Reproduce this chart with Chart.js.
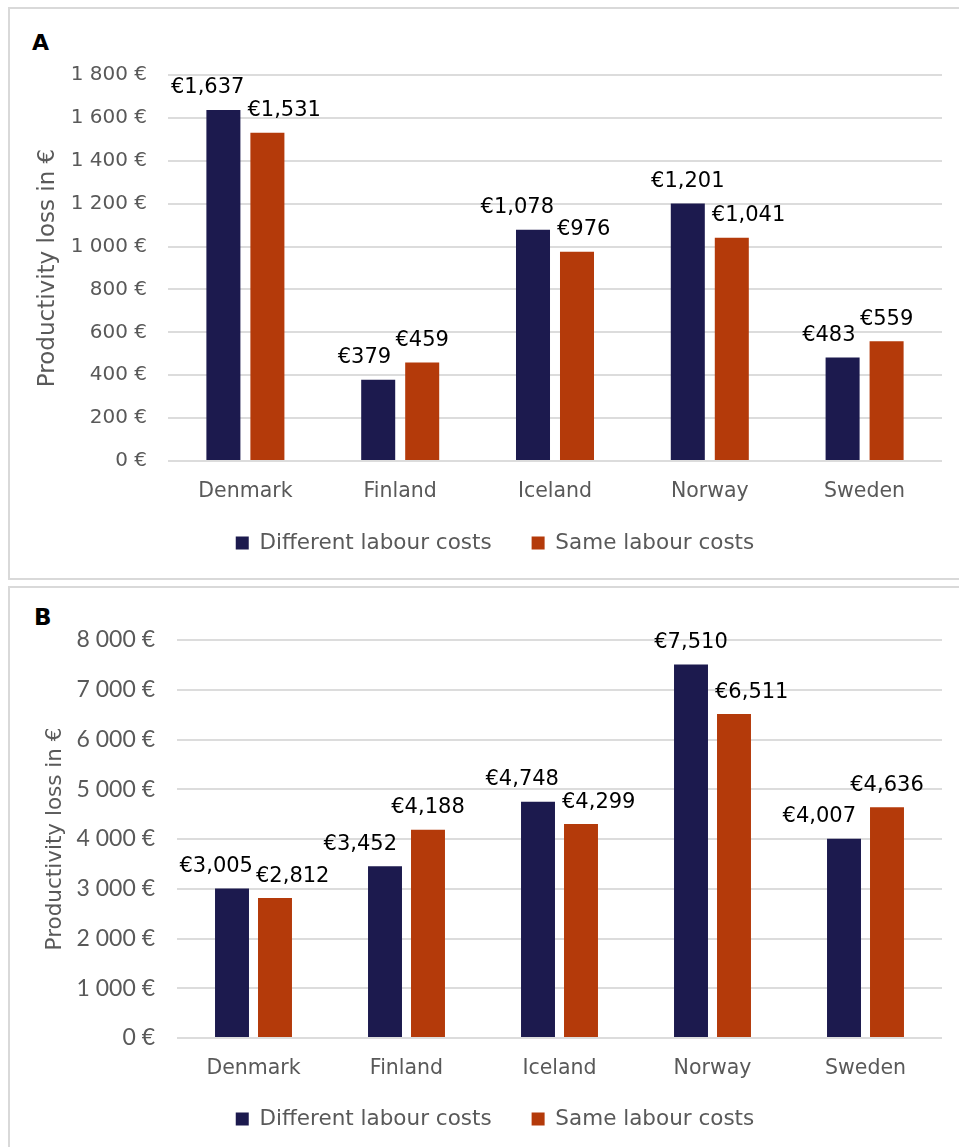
<!DOCTYPE html>
<html>
<head>
<meta charset="utf-8">
<script src="https://cdn.jsdelivr.net/npm/chart.js@4.4.1/dist/chart.umd.min.js"></script>
<style>
  html, body { margin: 0; padding: 0; background: #ffffff; }
  body { width: 959px; height: 1147px; position: relative; overflow: hidden; }
  .panel { position: absolute; box-sizing: border-box; border: 2px solid #d9d9d9; background: #fff; }
  .tag { position: absolute; font-family: "DejaVu Sans", sans-serif; font-weight: bold; color: #000; line-height: 22px; }
  canvas { position: absolute; }
</style>
</head>
<body>
<div class="panel" style="left:8px; top:7px; width:960px; height:573px;"></div>
<div class="panel" style="left:8px; top:586px; width:960px; height:600px;"></div>
<div class="tag" style="left:32px; top:32px; font-size:22px;">A</div>
<div class="tag" style="left:34px; top:606px; font-size:23px;">B</div>
<canvas id="chartA" width="948" height="575" style="left:11px; top:10px;"></canvas>
<canvas id="chartB" width="948" height="575" style="left:11px; top:589px;"></canvas>
<script>
// ---- data ----
const categories = ['Denmark', 'Finland', 'Iceland', 'Norway', 'Sweden'];
const seriesNames = ['Different labour costs', 'Same labour costs'];
const panelADifferent = [1637, 379, 1078, 1201, 483];
const panelASame = [1531, 459, 976, 1041, 559];
const panelBDifferent = [3005, 3452, 4748, 7510, 4007];
const panelBSame = [2812, 4188, 4299, 6511, 4636];
const panelATicks = [0, 200, 400, 600, 800, 1000, 1200, 1400, 1600, 1800];
const panelBTicks = [0, 1000, 2000, 3000, 4000, 5000, 6000, 7000, 8000];
const yTitle = 'Productivity loss in €';

const DARK = '#1c1a4e';
const ORANGE = '#b43a0a';
const GREY = '#595959';

function tickFmt(v) {
  return String(v).replace(/\B(?=(\d{3})+(?!\d))/g, ' ') + ' €';
}
function labelFmt(v) {
  return '€' + v.toLocaleString('en-US');
}

const barLabels = {
  id: 'barLabels',
  afterDatasetsDraw(chart) {
    const ctx = chart.ctx;
    const m0 = chart.getDatasetMeta(0), m1 = chart.getDatasetMeta(1);
    ctx.save();
    ctx.font = '21px "DejaVu Sans"';
    ctx.fillStyle = '#000000';
    ctx.textAlign = 'center';
    ctx.textBaseline = 'middle';
    const H = 24, raise = 22;
    for (let i = 0; i < m0.data.length; i++) {
      const bars = [m0.data[i], m1.data[i]];
      const vals = [chart.data.datasets[0].data[i], chart.data.datasets[1].data[i]];
      const labs = bars.map((b, k) => {
        const t = labelFmt(vals[k]);
        return { t, w: ctx.measureText(t).width, x: b.x, y: b.y - raise };
      });
      const tall = vals[0] >= vals[1] ? 0 : 1;
      const short = 1 - tall;
      const dir = short === 1 ? 1 : -1;
      const gap = short === 0 ? 14 : 7;
      const tb = bars[tall];
      const hw = tb.width / 2;
      const S = labs[short], T = labs[tall];
      if (S.y + H / 2 > tb.y - 4) {
        if (dir === 1) {
          const minLeft = tb.x + hw + gap;
          if (S.x - S.w / 2 < minLeft) S.x = minLeft + S.w / 2;
        } else {
          const maxRight = tb.x - hw - gap;
          if (S.x + S.w / 2 > maxRight) S.x = maxRight - S.w / 2;
        }
      }
      if (Math.abs(T.y - S.y) < H) {
        if (dir === 1) {
          const maxRight = S.x - S.w / 2 - 3;
          if (T.x + T.w / 2 > maxRight) T.x = maxRight - T.w / 2;
        } else {
          const minLeft = S.x + S.w / 2 + 3;
          if (T.x - T.w / 2 < minLeft) T.x = minLeft + T.w / 2;
        }
      }
      labs.forEach(l => ctx.fillText(l.t, l.x, l.y));
    }
    ctx.restore();
  }
};

// moves the legend up into the empty space below the category labels
const legendShift = {
  id: 'legendShift',
  beforeDraw(chart, args, opts) {
    const lg = chart.legend;
    if (lg && !lg._shifted) {
      lg.top -= opts.shift;
      lg.bottom -= opts.shift;
      lg._shifted = true;
    }
  }
};

function makeChart(id, cfg) {
  const ticks = cfg.ticks;
  return new Chart(document.getElementById(id), {
    type: 'bar',
    data: {
      labels: categories,
      datasets: [
        { label: seriesNames[0], data: cfg.d1, backgroundColor: DARK,
          categoryPercentage: cfg.catPct, barPercentage: cfg.barPct },
        { label: seriesNames[1], data: cfg.d2, backgroundColor: ORANGE,
          categoryPercentage: cfg.catPct, barPercentage: cfg.barPct }
      ]
    },
    options: {
      responsive: false,
      animation: false,
      events: [],
      layout: { padding: { left: 37, right: 17, top: cfg.padTop, bottom: cfg.padBottom } },
      plugins: {
        legend: {
          position: 'bottom',
          align: 'center',
          labels: {
            boxWidth: 13, boxHeight: 13, padding: 40,
            color: GREY,
            font: { family: 'DejaVu Sans', size: 21.5 }
          }
        },
        legendShift: { shift: cfg.legendShift },
        tooltip: { enabled: false },
        title: { display: false }
      },
      scales: {
        x: {
          grid: { display: false },
          border: { display: false },
          ticks: { color: GREY, padding: cfg.xPad, font: { family: 'DejaVu Sans', size: 20.5 } },
          afterFit(scale) { scale.height = cfg.xHeight; }
        },
        y: {
          min: ticks[0],
          max: ticks[ticks.length - 1],
          afterBuildTicks(scale) { scale.ticks = ticks.map(v => ({ value: v })); },
          grid: { color: '#dcdcdc', lineWidth: 2, drawTicks: false },
          border: { display: false },
          ticks: {
            color: GREY, padding: cfg.yPad,
            font: { family: cfg.tickFont, size: cfg.tickSize },
            callback: (v) => tickFmt(v)
          },
          title: {
            display: true, text: yTitle, color: GREY,
            font: { family: 'DejaVu Sans', size: cfg.titleSize },
            padding: { top: cfg.titlePadTop, bottom: 0 }
          },
          afterFit(scale) { scale.width = cfg.yWidth; }
        }
      }
    },
    plugins: [barLabels, legendShift]
  });
}

makeChart('chartA', {
  d1: panelADifferent, d2: panelASame, ticks: panelATicks,
  catPct: 0.5685, barPct: 0.773,
  padTop: 65, padBottom: 2.5, xHeight: 50, xPad: 10.5, legendShift: 18.75,
  yWidth: 120, yPad: 21, tickFont: 'DejaVu Sans', tickSize: 20,
  titleSize: 23, titlePadTop: -14
});

makeChart('chartB', {
  d1: panelBDifferent, d2: panelBSame, ticks: panelBTicks,
  catPct: 0.562, barPct: 0.79,
  padTop: 51, padBottom: 4.5, xHeight: 50, xPad: 10.5, legendShift: 19.75,
  yWidth: 129, yPad: 22, tickFont: 'Lato', tickSize: 23,
  titleSize: 21.5, titlePadTop: -5.9
});
</script>
</body>
</html>
